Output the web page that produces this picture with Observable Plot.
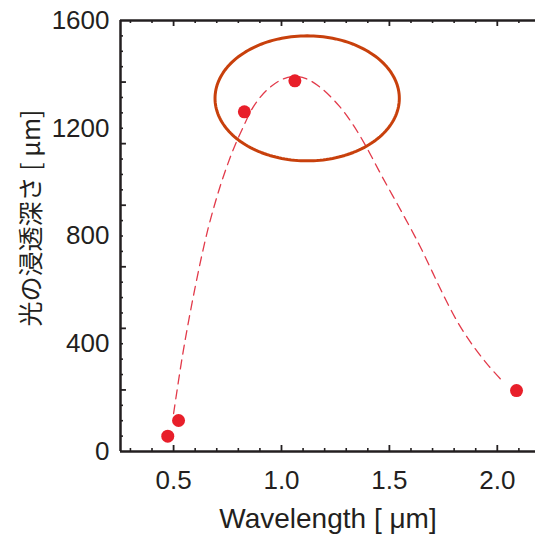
<!DOCTYPE html>
<html>
<head>
<meta charset="utf-8">
<script src="https://cdn.jsdelivr.net/npm/d3@7"></script>
<script src="https://cdn.jsdelivr.net/npm/@observablehq/plot@0.6"></script>
<style>
  html, body { margin: 0; padding: 0; background: #fff; overflow: hidden; }
</style>
</head>
<body>
<div id="chart"></div>
<script>
// Measured points
const wavelength = [0.473, 0.523, 0.828, 1.062, 2.089];
const depth = [57, 115, 1261, 1376, 226];

// Dashed fitted curve
const fitX = [0.50, 0.54, 0.57, 0.60, 0.63, 0.66, 0.69, 0.72, 0.75, 0.78, 0.82, 0.87, 0.93, 1.00, 1.06, 1.12, 1.19, 1.27, 1.33, 1.39, 1.47, 1.56, 1.64, 1.70, 1.76, 1.82, 1.89, 1.96, 2.03];
const fitY = [141, 350, 486, 610, 725, 828, 916, 995, 1065, 1128, 1200, 1280, 1340, 1380, 1392, 1382, 1345, 1280, 1215, 1135, 1015, 885, 765, 665, 565, 475, 390, 318, 256];

// Tick labels
const xTickLabels = [0.5, 1.0, 1.5, 2.0];
const yTickLabels = [0, 400, 800, 1200, 1600];

// Axis tick marks
const xMinorTicks = [0.3, 0.4, 0.6, 0.7, 0.8, 0.9, 1.1, 1.2, 1.3, 1.4, 1.6, 1.7, 1.8, 1.9, 2.1];
const xMajorTicks = [0.5, 1.0, 1.5, 2.0];
const yAll = d3.range(1, 28).map(i => i * 1600 / 28);
const yMajorTicks = yAll.filter((d, i) => (i + 1) % 4 === 0);
const yMinorTicks = yAll.filter((d, i) => (i + 1) % 4 !== 0);

// Annotation ellipse (data units)
const ellipseCenter = {x: 1.119, y: 1311};
const ellipseRadius = {x: 0.427, y: 232};

const xDomain = [0.254, 2.177];
const yDomain = [0, 1600];

const points = wavelength.map((w, i) => ({w, d: depth[i]}));
const fit = fitX.map((x, i) => ({x, y: fitY[i]}));
const ellipse = d3.range(0, 361, 2).map(a => ({
  x: ellipseCenter.x + ellipseRadius.x * Math.cos(a * Math.PI / 180),
  y: ellipseCenter.y + ellipseRadius.y * Math.sin(a * Math.PI / 180)
}));

const ink = "#231f20";
const tx = 0.0046; // ~1px in x units
const ty = 3.71;   // ~1px in y units
const x0 = xDomain[0];

const chart = Plot.plot({
  width: 535,
  height: 535,
  marginLeft: 120,
  marginRight: 0,
  marginTop: 20,
  marginBottom: 84,
  style: {fontFamily: "'Liberation Sans', Arial, sans-serif", fontSize: "26px", color: ink, background: "#fff"},
  x: {domain: xDomain, label: null},
  y: {domain: yDomain, label: null},
  marks: [
    Plot.axisX(xTickLabels, {tickSize: 0, tickPadding: 19, tickFormat: d3.format(".1f"), fontSize: 26, label: null}),
    Plot.axisY(yTickLabels, {tickSize: 0, tickPadding: 11, tickFormat: d3.format("d"), fontSize: 26, label: null}),
    // tick marks (inward)
    Plot.ruleX(xMinorTicks, {y1: 0, y2: 3 * ty, stroke: ink, strokeWidth: 1.6}),
    Plot.ruleX(xMajorTicks, {y1: 0, y2: 6 * ty, stroke: ink, strokeWidth: 1.8}),
    Plot.ruleX(xMinorTicks, {y1: 1600, y2: 1600 - 3 * ty, stroke: ink, strokeWidth: 1.6}),
    Plot.ruleX(xMajorTicks, {y1: 1600, y2: 1600 - 6 * ty, stroke: ink, strokeWidth: 1.8}),
    Plot.ruleY(yMinorTicks, {x1: x0, x2: x0 + 3 * tx, stroke: ink, strokeWidth: 1.6}),
    Plot.ruleY(yMajorTicks, {x1: x0, x2: x0 + 6 * tx, stroke: ink, strokeWidth: 1.8}),
    // frame lines
    Plot.ruleY([0, 1600], {stroke: ink, strokeWidth: 2.5}),
    Plot.ruleX([x0], {stroke: ink, strokeWidth: 2.5}),
    // fitted curve
    Plot.line(fit, {x: "x", y: "y", curve: "catmull-rom", stroke: "#e23a4a", strokeWidth: 1.3, strokeDasharray: "9,6"}),
    // points
    Plot.dot(points, {x: "w", y: "d", r: 6.5, fill: "#e81f2a", stroke: "none"}),
    // annotation ellipse
    Plot.line(ellipse, {x: "x", y: "y", curve: "linear", stroke: "#c8400c", strokeWidth: 3}),
    // axis titles
    Plot.text(["Wavelength [ μm]"], {frameAnchor: "bottom", dy: 76, fontSize: 28, fill: ink, lineAnchor: "bottom"}),
    Plot.text(["光の浸透深さ [ μm]"], {frameAnchor: "left", dx: -89, dy: -18, rotate: -90, textAnchor: "middle", fontSize: 25, fill: ink, fontFamily: "'Noto Sans CJK JP', sans-serif"})
  ]
});

document.getElementById("chart").appendChild(chart);
</script>
</body>
</html>
